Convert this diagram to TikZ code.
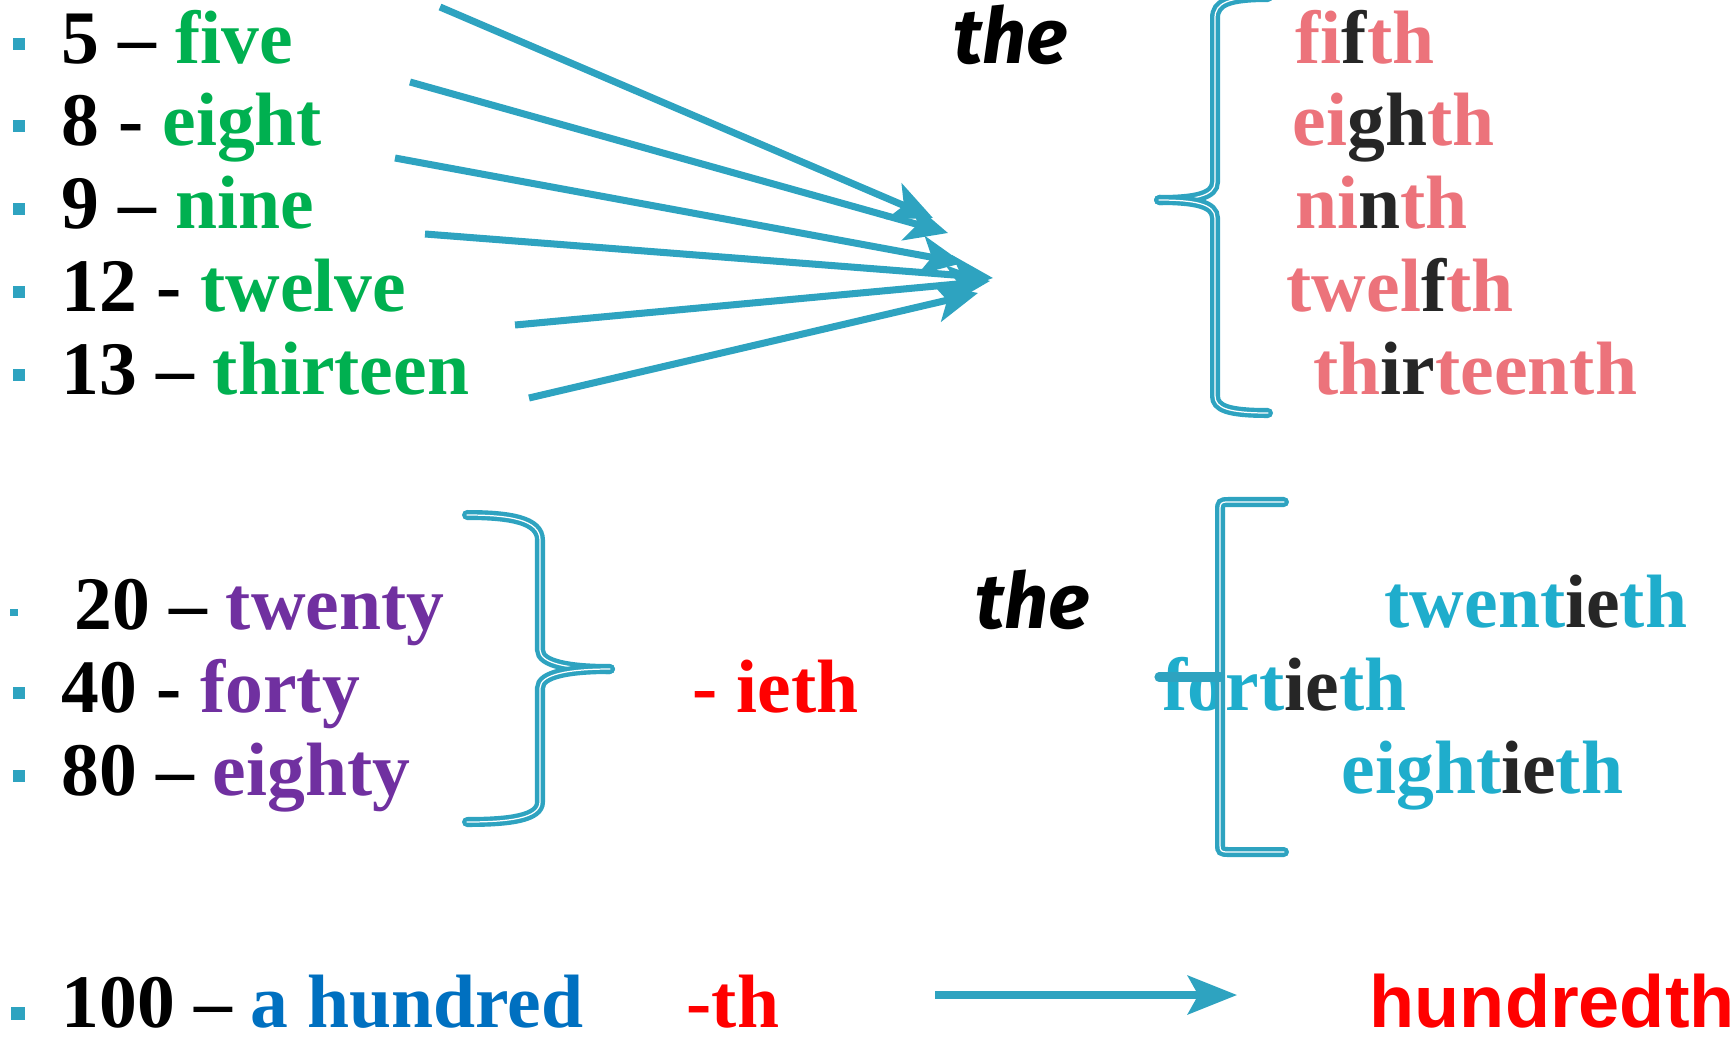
\documentclass[tikz,border=0pt]{standalone}
\usepackage{fontspec}
\setmainfont{Liberation Serif}
\newfontfamily\comicfont{Fira Sans}
\newfontfamily\arialfont{Liberation Sans}
\usetikzlibrary{arrows.meta}
\definecolor{arrowcol}{RGB}{46,163,192}
\definecolor{grn}{RGB}{0,176,80}
\definecolor{rose}{RGB}{236,115,123}
\definecolor{ink}{RGB}{38,38,38}
\definecolor{purp}{RGB}{112,48,160}
\definecolor{sky}{RGB}{31,173,204}
\definecolor{hblue}{RGB}{0,112,192}
\tikzset{
  word/.style={anchor=base west, inner sep=0pt, font=\fontsize{21.5}{26}\selectfont\bfseries},
  theword/.style={anchor=base west, inner sep=0pt, font=\comicfont\fontsize{22}{26}\selectfont\bfseries\itshape},
  bul/.style={fill=arrowcol, inner sep=0pt, minimum size=0.115cm},
  arr/.style={draw=arrowcol, line width=2pt, -{Stealth[length=12pt, width=11pt, inset=3pt]}},
  brace/.style={draw=arrowcol, line width=1.25pt, double=white, double distance=0.35pt, line cap=round}
}
\begin{document}
\begin{tikzpicture}[x=0.01cm, y=-0.01cm]
\useasboundingbox (0,0) rectangle (1736,1045);
\node[bul] (b5) at (19,44) {};
\node[bul] (b8) at (19,126) {};
\node[bul] (b9) at (19,209) {};
\node[bul] (b12) at (19,292) {};
\node[bul] (b13) at (19,375) {};
\node[bul, minimum size=0.07cm] (b20) at (14,612) {};
\node[bul] (b40) at (19,693) {};
\node[bul] (b80) at (19,776) {};
\node[bul, minimum size=0.13cm] (b100) at (18,1013) {};
\node[word] (r5) at (61,63) {5 -- \textcolor{grn}{five}};
\node[word] (r8) at (61,145) {8 - \textcolor{grn}{eight}};
\node[word] (r9) at (61,228) {9 -- \textcolor{grn}{nine}};
\node[word] (r12) at (61,311) {12 - \textcolor{grn}{twelve}};
\node[word] (r13) at (61,394) {13 -- \textcolor{grn}{thirteen}};
\node[theword] (the1) at (953,63) {the};
\node[word, rose] (o5) at (1295,63) {fi\textcolor{ink}{f}th};
\node[word, rose] (o8) at (1292,145) {ei\textcolor{ink}{gh}th};
\node[word, rose] (o9) at (1295,228) {ni\textcolor{ink}{n}th};
\node[word, rose] (o12) at (1286,311) {twel\textcolor{ink}{f}th};
\node[word, rose] (o13) at (1313,394) {th\textcolor{ink}{ir}teenth};
\coordinate (S1) at (440,7);   \coordinate (T1) at (933,218);
\coordinate (S2) at (410,82);  \coordinate (T2) at (948,233);
\coordinate (S3) at (395,158); \coordinate (T3) at (963,263);
\coordinate (S4) at (425,234); \coordinate (T4) at (993,278);
\coordinate (S5) at (515,325); \coordinate (T5) at (990,281);
\coordinate (S6) at (529,398); \coordinate (T6) at (978,293);
\draw[arr] (S1) -- (T1);
\draw[arr] (S2) -- (T2);
\draw[arr] (S3) -- (T3);
\draw[arr] (S4) -- (T4);
\draw[arr] (S5) -- (T5);
\draw[arr] (S6) -- (T6);
\draw[brace] (1268,-3) .. controls (1228,-3) and (1215,3) .. (1215,18) -- (1215,182) .. controls (1215,196) and (1195,200) .. (1159,200);
\draw[brace] (1159,200) .. controls (1195,200) and (1215,204) .. (1215,218) -- (1215,396) .. controls (1215,408) and (1228,413) .. (1268,413);
\node[word] (r20) at (74,629) {20 -- \textcolor{purp}{twenty}};
\node[word] (r40) at (61,712) {40 - \textcolor{purp}{forty}};
\node[word] (r80) at (61,795) {80 -- \textcolor{purp}{eighty}};
\draw[brace] (467,515) .. controls (510,515) and (540,520) .. (540,540) -- (540,650) .. controls (540,664) and (570,669) .. (610,669);
\draw[brace] (610,669) .. controls (570,669) and (540,674) .. (540,688) -- (540,802) .. controls (540,818) and (510,822) .. (467,822);
\node[word, red] (ieth) at (692,712) {- ieth};
\node[theword] (the2) at (975,628) {the};
\node[word, sky] (o20) at (1384,627) {twent\textcolor{ink}{ie}th};
\node[word, sky] (o40) at (1162,710) {fort\textcolor{ink}{ie}th};
\node[word, sky] (o80) at (1341,793) {eight\textcolor{ink}{ie}th};
\draw[brace] (1284,502) -- (1228,502) .. controls (1221,502) and (1220,503) .. (1220,510) -- (1220,845) .. controls (1220,851) and (1221,852) .. (1228,852) -- (1284,852);
\draw[arrowcol, line width=2.6pt, line cap=round] (1159,677) -- (1220,677);
\node[word] (r100) at (61,1027) {100 -- \textcolor{hblue}{a hundred}};
\node[word, red] (th) at (686,1027) {-th};
\coordinate (P) at (935,995);
\coordinate (Q) at (1237,995);
\draw[arr, -{Stealth[length=14pt, width=11pt, inset=3pt]}] (P) -- (Q);
\node[word, red, font=\arialfont\fontsize{21}{26}\selectfont\bfseries] (hundredth) at (1369,1027) {hundredth};
\end{tikzpicture}
\end{document}
